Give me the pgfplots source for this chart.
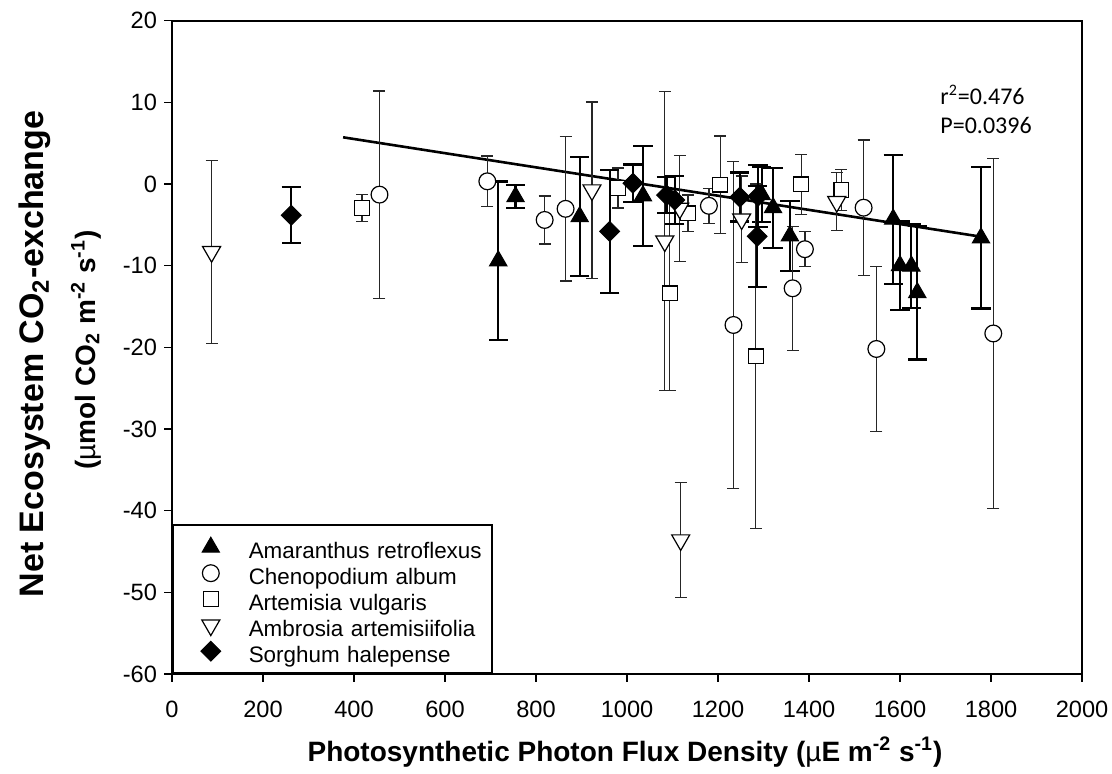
\documentclass[border=0pt]{standalone}
\usepackage{fontspec}
\setmainfont{Liberation Sans}
\newfontfamily\calibri{Carlito}
\usepackage{pgfplots}
\pgfplotsset{compat=1.18}
\usepackage{pgfplotstable}

\pgfplotstableread{
x y e
717 -9.4 9.7
755 -1.55 1.4
896 -4.0 7.3
1035 -1.45 6.1
1296 -1.3 3.4
1321 -2.9 4.9
1358 -6.35 4.3
1585 -4.3 7.9
1600 -10.0 5.4
1625 -10.05 5.15
1638 -13.3 8.2
1778 -6.6 8.65
}\amaranthus

\pgfplotstableread{
x y e
456 -1.3 12.7
693 0.33 3.1
819 -4.4 2.94
865 -3.04 8.83
1180 -2.67 2.14
1234 -17.26 20.0
1364 -12.77 7.6
1391 -7.98 2.14
1520 -2.9 8.3
1548 -20.2 10.1
1805 -18.3 21.4
}\chenopodium

\pgfplotstableread{
x y e
418 -2.94 1.67
980 -0.5 2.45
1094 -13.4 11.9
1134 -3.6 2.25
1205 -0.08 5.95
1283 -21.1 21.1
1383 -0.04 3.67
1471 -0.73 2.5
}\artemisia

\pgfplotstableread{
x y e
87 -8.3 11.2
923 -0.74 10.8
1083 -7.0 18.3
1118 -43.6 7.05
1116 -2.98 6.5
1252 -4.3 5.3
1461 -2.17 3.55
}\ambrosia

\pgfplotstableread{
x y e
262 -3.83 3.43
962 -5.8 7.5
1013 0.1 2.3
1087 -1.35 2.2
1105 -1.96 2.9
1248 -1.6 3.0
1288 -1.5 3.8
1286 -6.4 6.2
}\sorghum

\pgfplotsset{
  mylegend/.style={legend image code/.code={%
     \path[draw=none,fill=none] (-19pt,0pt) -- (19pt,0pt);
     \draw[mark repeat=2,mark phase=2,##1] plot coordinates {(-10pt,0pt) (0pt,0pt) (10pt,0pt)};}},
  thinerr/.style={error bars/.cd, y dir=both, y explicit,
     error bar style={line width=0.7pt, black!85},
     error mark options={rotate=90, mark size=3pt, line width=0.7pt, black!85}},
  thickerr/.style={error bars/.cd, y dir=both, y explicit,
     error bar style={line width=1.1pt, black},
     error mark options={rotate=90, mark size=4.8pt, line width=1.1pt, black}},
}

\begin{document}
\begin{tikzpicture}
\path[use as bounding box] (0,0) rectangle (556pt,387pt);
\begin{axis}[
  at={(86pt,50pt)}, anchor=south west,
  scale only axis, width=455pt, height=326.65pt,
  xmin=0, xmax=2000, ymin=-60, ymax=20,
  xtick={0,200,...,2000}, ytick={-60,-50,...,20},
  tick align=outside, xtick pos=bottom, ytick pos=left,
  major tick length=4pt,
  tick style={black, line width=0.7pt},
  axis line style={line width=1pt},
  /pgf/number format/assume math mode=true,
  /pgf/number format/1000 sep={},
  tick label style={font=\fontsize{11.8}{14}\selectfont},
  xticklabel style={yshift=-6pt},
  legend cell align=left,
  legend style={at={(0,0)}, anchor=south west, draw=black, line width=0.8pt,
     font=\fontsize{11.2}{13}\selectfont, inner xsep=0pt, inner ysep=4.5pt,
     column sep=0pt, row sep=0pt,
     nodes={inner xsep=0pt, inner ysep=0pt, text width=121.5pt, align=left,
            text height=12.4pt, text depth=0.6pt}},
]
\addplot[black, line width=1.3pt, forget plot] coordinates {(376,5.72) (1778,-6.45)};

\addplot[only marks, mylegend, mark=triangle*, mark size=5pt, mark options={fill=black, draw=black, line width=0.5pt}, thickerr]
  table[x=x, y=y, y error=e] {\amaranthus};
\addlegendentry{\mbox{Amaranthus retroflexus}}
\addplot[only marks, mylegend, mark=*, mark size=4.2pt, mark options={fill=white, draw=black, line width=0.6pt}, thinerr]
  table[x=x, y=y, y error=e] {\chenopodium};
\addlegendentry{\mbox{Chenopodium album}}
\addplot[only marks, mylegend, mark=square*, mark size=3.7pt, mark options={fill=white, draw=black, line width=0.6pt}, thinerr]
  table[x=x, y=y, y error=e] {\artemisia};
\addlegendentry{\mbox{Artemisia vulgaris}}
\addplot[only marks, mylegend, mark=triangle*, mark size=5.2pt, mark options={fill=white, draw=black, line width=0.6pt, rotate=180}, thinerr]
  table[x=x, y=y, y error=e] {\ambrosia};
\addlegendentry{\mbox{Ambrosia artemisiifolia}}
\addplot[only marks, mylegend, mark=square*, mark size=3.5pt, mark options={fill=black, draw=black, line width=0.5pt, rotate=45}, thickerr]
  table[x=x, y=y, y error=e] {\sorghum};
\addlegendentry{\mbox{Sorghum halepense}}

\node[anchor=west, font=\calibri\fontsize{12}{14}\selectfont, inner sep=0pt] at (axis cs:1688,10.9) {r\textsuperscript{2}=0.476};
\node[anchor=west, font=\calibri\fontsize{12}{14}\selectfont, inner sep=0pt] at (axis cs:1688,7.2) {P=0.0396};
\end{axis}
\node[font=\bfseries\fontsize{14}{16}\selectfont] at (312.5pt,11pt) {Photosynthetic Photon Flux Density ({\mdseries µ}E m\textsuperscript{-2} s\textsuperscript{-1})};
\node[rotate=90, font=\bfseries\fontsize{17}{20}\selectfont] at (17.5pt,210pt) {Net Ecosystem CO\textsubscript{2}-exchange};
\node[rotate=90, font=\bfseries\fontsize{14}{16}\selectfont] at (43pt,212pt) {({\mdseries µ}mol CO\textsubscript{2} m\textsuperscript{-2} s\textsuperscript{-1})};
\end{tikzpicture}
\end{document}
